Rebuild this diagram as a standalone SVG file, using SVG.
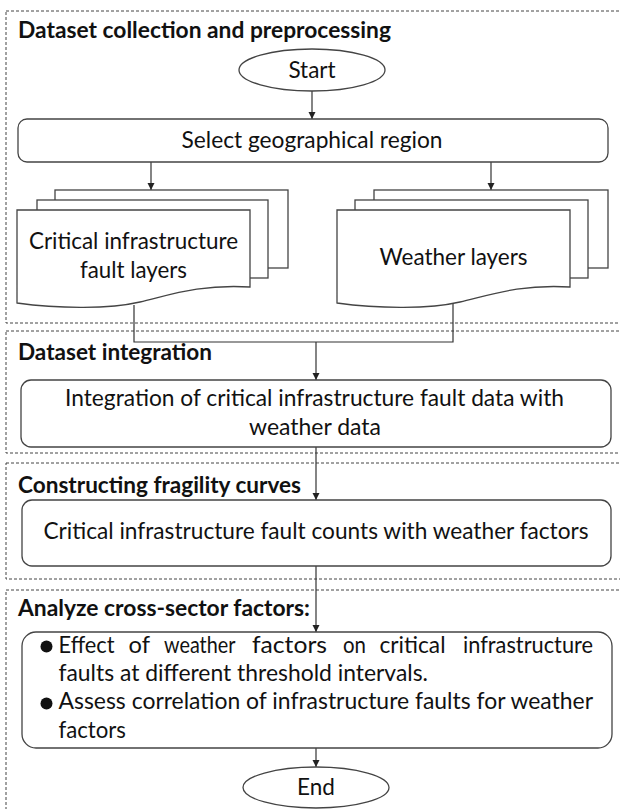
<svg xmlns="http://www.w3.org/2000/svg" width="620" height="809" viewBox="0 0 620 809">
<defs>
<marker id="arr" viewBox="0 0 10 10" refX="10" refY="5" markerWidth="7" markerHeight="8" markerUnits="userSpaceOnUse" orient="auto">
<path d="M0,0 L10,5 L0,10 z" fill="#222"/>
</marker>
<style>
.sec{fill:none;stroke:#444;stroke-width:1;stroke-dasharray:3 2}
.box{fill:#fff;stroke:#444;stroke-width:1.3}
.doc{fill:#fff;stroke:#444;stroke-width:1.3}
.con{fill:none;stroke:#333;stroke-width:1.2}
.t{font-family:Lato,"Liberation Sans",sans-serif;font-size:22.5px;fill:#111}
.h{font-family:Lato,"Liberation Sans",sans-serif;font-size:22px;font-weight:bold;fill:#111}
.c{text-anchor:middle}
</style>
</defs>
<rect width="620" height="809" fill="#fff"/>

<g id="sections">
<rect class="sec" x="6" y="11" width="700" height="312"/>
<rect class="sec" x="6" y="331" width="700" height="122"/>
<rect class="sec" x="6" y="463" width="700" height="116"/>
<rect class="sec" x="6" y="590" width="700" height="240"/>
<text class="h" x="18" y="38" textLength="373" lengthAdjust="spacingAndGlyphs">Dataset collection and preprocessing</text>
<text class="h" x="18" y="360" textLength="194" lengthAdjust="spacingAndGlyphs">Dataset integration</text>
<text class="h" x="18" y="493" textLength="283" lengthAdjust="spacingAndGlyphs">Constructing fragility curves</text>
<text class="h" x="18" y="616" textLength="292" lengthAdjust="spacingAndGlyphs">Analyze cross-sector factors:</text>
</g>

<g id="connectors">
<line class="con" x1="312" y1="91" x2="312" y2="119" marker-end="url(#arr)"/>
<line class="con" x1="151" y1="162" x2="151" y2="190" marker-end="url(#arr)"/>
<line class="con" x1="491" y1="162" x2="491" y2="190" marker-end="url(#arr)"/>
<polyline class="con" points="134,305 134,342 453,342 453,303"/>
<line class="con" x1="316" y1="342" x2="316" y2="380" marker-end="url(#arr)"/>
<line class="con" x1="316" y1="447" x2="316" y2="500" marker-end="url(#arr)"/>
<line class="con" x1="316" y1="566" x2="316" y2="632" marker-end="url(#arr)"/>
<line class="con" x1="316" y1="748" x2="316" y2="767" marker-end="url(#arr)"/>
</g>

<g id="start">
<ellipse class="box" cx="312" cy="70" rx="73" ry="21"/>
<text class="t c" x="312" y="78">Start</text>
</g>

<g id="select-region">
<rect class="box" x="18" y="119" width="590" height="43" rx="9"/>
<text class="t c" x="312" y="148" textLength="261" lengthAdjust="spacingAndGlyphs">Select geographical region</text>
</g>

<g id="fault-layers">
<rect class="doc" x="55" y="190" width="233" height="78"/>
<rect class="doc" x="37" y="200" width="231" height="78"/>
<path class="doc" d="M17,210 H250 V287 C200,284 170,295 140,302 C110,309 60,309 17,303 Z"/>
<text class="t c" x="133.5" y="249" textLength="209" lengthAdjust="spacingAndGlyphs">Critical infrastructure</text>
<text class="t c" x="133.5" y="278" textLength="107" lengthAdjust="spacingAndGlyphs">fault layers</text>
</g>

<g id="weather-layers">
<rect class="doc" x="374" y="190" width="234" height="78"/>
<rect class="doc" x="355" y="200" width="233" height="78"/>
<path class="doc" d="M337,210 H570 V287 C520,284 490,295 460,302 C430,309 380,309 337,303 Z"/>
<text class="t c" x="453.6" y="265" textLength="148" lengthAdjust="spacingAndGlyphs">Weather layers</text>
</g>

<g id="integration">
<rect class="box" x="21" y="380" width="590" height="67" rx="10"/>
<text class="t c" x="314.5" y="406" textLength="499" lengthAdjust="spacingAndGlyphs">Integration of critical infrastructure fault data with</text>
<text class="t c" x="315" y="435" textLength="132" lengthAdjust="spacingAndGlyphs">weather data</text>
</g>

<g id="fault-counts">
<rect class="box" x="22" y="500" width="589" height="66" rx="10"/>
<text class="t c" x="316" y="539" textLength="545" lengthAdjust="spacingAndGlyphs">Critical infrastructure fault counts with weather factors</text>
</g>

<g id="analyze">
<rect class="box" x="22" y="632" width="590" height="116" rx="14"/>
<circle cx="46.5" cy="646.5" r="6" fill="#111"/>
<circle cx="46.5" cy="703.5" r="6" fill="#111"/>
<text class="t" y="653">
<tspan x="58.5" textLength="56" lengthAdjust="spacingAndGlyphs">Effect</tspan>
<tspan x="128.5" textLength="21" lengthAdjust="spacingAndGlyphs">of</tspan>
<tspan x="164" textLength="71" lengthAdjust="spacingAndGlyphs">weather</tspan>
<tspan x="252" textLength="75" lengthAdjust="spacingAndGlyphs">factors</tspan>
<tspan x="343" textLength="23" lengthAdjust="spacingAndGlyphs">on</tspan>
<tspan x="379.5" textLength="66" lengthAdjust="spacingAndGlyphs">critical</tspan>
<tspan x="463" textLength="130" lengthAdjust="spacingAndGlyphs">infrastructure</tspan>
</text>
<text class="t" x="58.5" y="681" textLength="369.5" lengthAdjust="spacingAndGlyphs">faults at different threshold intervals.</text>
<text class="t" x="58.5" y="709" textLength="534.5" lengthAdjust="spacingAndGlyphs">Assess correlation of infrastructure faults for weather</text>
<text class="t" x="58.5" y="738" textLength="67.5" lengthAdjust="spacingAndGlyphs">factors</text>
</g>

<g id="end">
<ellipse class="box" cx="316" cy="787.5" rx="73" ry="20.5"/>
<text class="t c" x="316" y="795">End</text>
</g>
</svg>
